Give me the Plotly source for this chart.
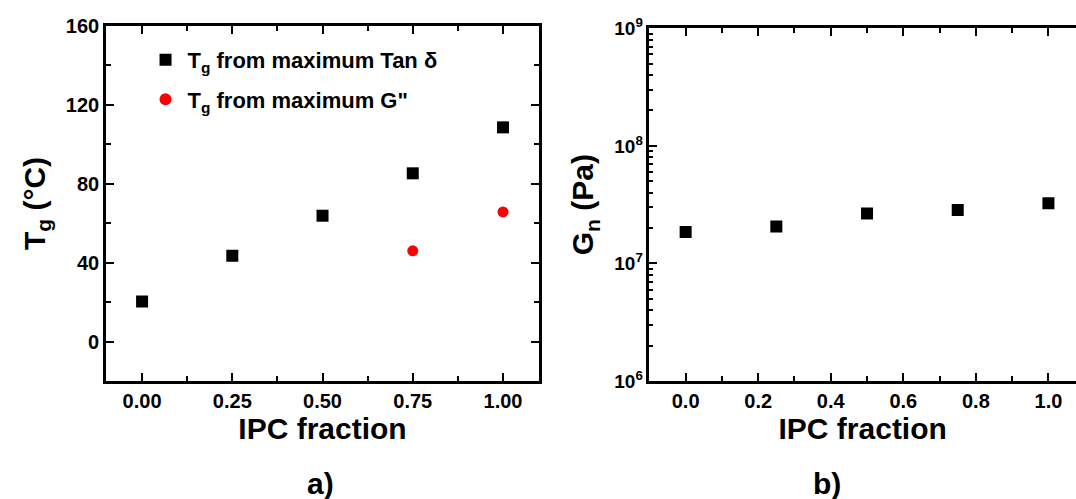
import plotly.graph_objects as go

# Data
ipc_fraction = [0.0, 0.25, 0.5, 0.75, 1.0]
tg_tan_delta = [20.3, 43.5, 63.8, 85.3, 108.6]
ipc_fraction_g2 = [0.75, 1.0]
tg_g_double_prime = [46, 65.7]
gn_values = [1.85e7, 2.06e7, 2.66e7, 2.85e7, 3.25e7]

left_ticks = [0, 0.25, 0.5, 0.75, 1.0]
left_ticktext = ["0.00", "0.25", "0.50", "0.75", "1.00"]
right_ticks = [0, 0.2, 0.4, 0.6, 0.8, 1.0]
right_ticktext = ["0.0", "0.2", "0.4", "0.6", "0.8", "1.0"]
tg_yticks = [0, 40, 80, 120, 160]
gn_yticks = [1e6, 1e7, 1e8, 1e9]
gn_ticktext = ["10<sup>6</sup>", "10<sup>7</sup>", "10<sup>8</sup>", "10<sup>9</sup>"]
gn_minor = [m * d for d in [1e6, 1e7, 1e8] for m in range(2, 10)]

FONT = "Liberation Sans, Arial, sans-serif"

fig = go.Figure()
fig.add_trace(go.Scatter(x=ipc_fraction, y=tg_tan_delta, mode="markers",
                         marker=dict(symbol="square", size=12, color="black"),
                         name="T<sub>g</sub> from maximum Tan δ", legendgroup="a",
                         xaxis="x", yaxis="y"))
fig.add_trace(go.Scatter(x=ipc_fraction_g2, y=tg_g_double_prime, mode="markers",
                         marker=dict(symbol="circle", size=11, color="#ff0000"),
                         name="T<sub>g</sub> from maximum G\"", legendgroup="b",
                         xaxis="x", yaxis="y"))
fig.add_trace(go.Scatter(x=ipc_fraction, y=gn_values, mode="markers",
                         marker=dict(symbol="square", size=12, color="black"),
                         showlegend=False, xaxis="x2", yaxis="y2"))

axis_common = dict(showline=True, linecolor="black", linewidth=2.5, ticks="inside",
                   ticklen=8, tickwidth=2, tickcolor="black", showgrid=False, zeroline=False,
                   automargin=False,
                   tickfont=dict(family=FONT, size=20, color="black", weight="bold"))

title_font = dict(family=FONT, size=30, weight="bold", color="black")

fig.update_layout(
    width=1076, height=499,
    margin=dict(l=0, r=0, t=0, b=0, autoexpand=False),
    paper_bgcolor="white", plot_bgcolor="white",
    font=dict(family=FONT, color="black"),
    xaxis=dict(domain=[0.0985, 0.501], range=[-0.1, 1.1], tickvals=left_ticks,
               ticktext=left_ticktext, mirror="ticks", anchor="y",
               minor=dict(ticks="inside", ticklen=5, tickwidth=2, dtick=0.125, tick0=0, tickcolor="black"),
               title=dict(text="IPC fraction", font=title_font, standoff=8),
               **axis_common),
    yaxis=dict(domain=[0.2365, 0.9479], range=[-20, 160], tickvals=tg_yticks,
               mirror="ticks", anchor="x",
               minor=dict(ticks="inside", ticklen=5, tickwidth=2, dtick=20, tick0=0, tickcolor="black"),
               title=dict(text="T<sub>g</sub> (°C)", font=title_font, standoff=12),
               **axis_common),
    xaxis2=dict(domain=[0.6035, 1.0], range=[-0.1, 1.076], tickvals=right_ticks,
                ticktext=right_ticktext, mirror="ticks", anchor="y2",
                minor=dict(ticks="inside", ticklen=5, tickwidth=2, dtick=0.1, tick0=0, tickcolor="black"),
                title=dict(text="IPC fraction", font=title_font, standoff=8),
                **axis_common),
    yaxis2=dict(domain=[0.2365, 0.9433], type="log", range=[6, 9], tickvals=gn_yticks,
                ticktext=gn_ticktext, anchor="x2",
                minor=dict(ticks="inside", ticklen=4, tickwidth=1.5, tickvals=gn_minor, tickcolor="black"),
                title=dict(text="G<sub>n</sub> (Pa)", font=title_font, standoff=12),
                **{**axis_common, "tickfont": dict(family=FONT, size=19, color="black", weight="bold")}),
    legend=dict(x=0.1334, y=0.922, xanchor="left", yanchor="top", bgcolor="rgba(0,0,0,0)",
                font=dict(family=FONT, size=22, color="black", weight="bold"),
                itemsizing="constant", itemwidth=34, tracegroupgap=8),
    annotations=[
        dict(text="a)", x=0.283, y=0.032, xref="paper", yref="paper", showarrow=False,
             yanchor="middle", font=dict(family=FONT, size=30, weight="bold", color="black")),
        dict(text="b)", x=0.783, y=0.032, xref="paper", yref="paper", showarrow=False,
             yanchor="middle", font=dict(family=FONT, size=30, weight="bold", color="black")),
    ],
)

fig.write_html("out.html")
